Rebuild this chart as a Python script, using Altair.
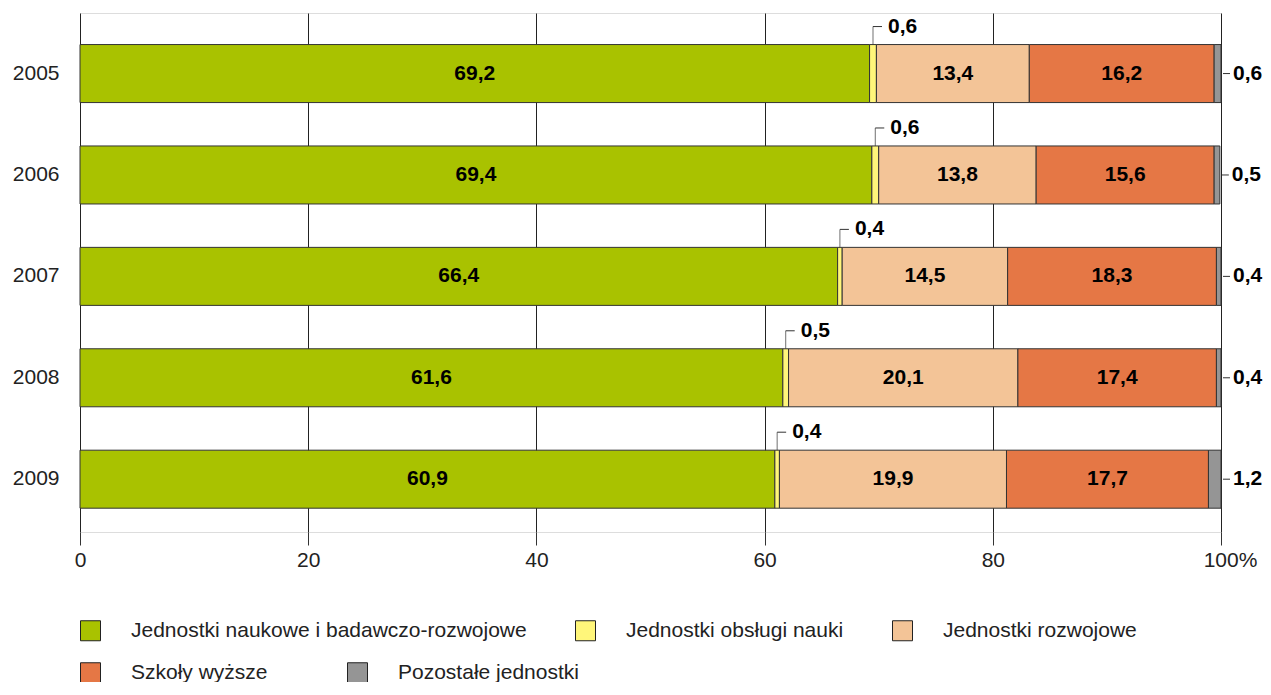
import altair as alt
import pandas as pd

years = ["2005", "2006", "2007", "2008", "2009"]
categories = [
    "Jednostki naukowe i badawczo-rozwojowe",
    "Jednostki obsługi nauki",
    "Jednostki rozwojowe",
    "Szkoły wyższe",
    "Pozostałe jednostki",
]
naukowe = [69.2, 69.4, 66.4, 61.6, 60.9]
obslugi = [0.6, 0.6, 0.4, 0.5, 0.4]
rozwojowe = [13.4, 13.8, 14.5, 20.1, 19.9]
szkoly = [16.2, 15.6, 18.3, 17.4, 17.7]
pozostale = [0.6, 0.5, 0.4, 0.4, 1.2]
colors = ["#A9C200", "#FFF67A", "#F3C497", "#E57745", "#959595"]
x_ticks = [0, 20, 40, 60, 80, 100]

series = [naukowe, obslugi, rozwojowe, szkoly, pozostale]
rows = []
for i, y in enumerate(years):
    cum = 0.0
    for c, vals in zip(categories, series):
        v = vals[i]
        rows.append({
            "year": y, "cat": c, "value": v,
            "start": cum, "end": cum + v, "mid": cum + v / 2,
            "label": f"{v:.1f}".replace(".", ","),
        })
        cum += v
df = pd.DataFrame(rows)

FONT = "Liberation Sans"

xscale = alt.Scale(domain=[0, 100], clamp=True, nice=False, zero=True)
yscale = alt.Scale(domain=years, paddingInner=0.428, paddingOuter=0.273, align=0.57)

legend_common = dict(
    title=None, orient="none", legendX=0, direction="horizontal",
    symbolType="square", symbolSize=400,
    symbolStrokeColor="#222222", symbolStrokeWidth=1, symbolOpacity=1,
    labelFontSize=21, labelFont=FONT, labelColor="#222222", labelOffset=30,
    labelLimit=600, padding=0,
)

bars = alt.Chart(df).mark_bar(stroke="#333333", strokeWidth=1).encode(
    x=alt.X("start:Q", scale=xscale, axis=alt.Axis(
        values=x_ticks, title=None, grid=True, gridColor="#222222", gridWidth=1,
        domain=False, ticks=True, tickSize=13, tickColor="#333333",
        labelFontSize=21, labelFont=FONT, labelColor="#222222", labelPadding=4,
        labelFlush=False,
        labelExpr="datum.value == 100 ? '100%' : datum.label",
        labelOffset={"condition": {"test": "datum.value == 100", "value": 9}, "value": 0},
    )),
    x2="end:Q",
    y=alt.Y("year:N", scale=yscale, sort=years, axis=alt.Axis(
        title=None, ticks=False, domain=False, labelFontSize=21, labelFont=FONT,
        labelColor="#222222", labelPadding=21,
    )),
    color=alt.Color("cat:N", scale=alt.Scale(domain=categories, range=colors), legend=alt.Legend(
        values=categories[:3], legendY=607, columnPadding=46, **legend_common,
    )),
)

second = df[df["cat"].isin(categories[3:])]
legend2_layer = alt.Chart(second).mark_bar(opacity=0, strokeOpacity=0).encode(
    x=alt.X("start:Q", scale=xscale),
    x2="end:Q",
    y=alt.Y("year:N", scale=yscale, sort=years),
    fill=alt.Fill("cat:N", scale=alt.Scale(domain=categories[3:], range=colors[3:]), legend=alt.Legend(
        values=categories[3:], legendY=649, columnPadding=77, **legend_common,
    )),
)

big = df[df["cat"].isin([categories[0], categories[2], categories[3]])]
inside = alt.Chart(big).mark_text(fontSize=21, font=FONT, fontWeight="bold", color="#000000").encode(
    x=alt.X("mid:Q", scale=xscale),
    y=alt.Y("year:N", scale=yscale, sort=years, bandPosition=0.5),
    text="label:N",
)

yel = df[df["cat"] == categories[1]]
yel_tick = alt.Chart(yel).mark_tick(size=18, thickness=1, color="#333333", yOffset=-38, orient="vertical").encode(
    x=alt.X("mid:Q", scale=xscale),
    y=alt.Y("year:N", scale=yscale, sort=years),
)
yel_rule = alt.Chart(yel).mark_rule(color="#333333", strokeWidth=1, yOffset=-47, x2Offset=9).encode(
    x=alt.X("mid:Q", scale=xscale),
    x2="mid:Q",
    y=alt.Y("year:N", scale=yscale, sort=years, bandPosition=0.5),
)
yel_text = alt.Chart(yel).mark_text(fontSize=21, font=FONT, fontWeight="bold", color="#000000",
                                    align="left", dx=15, dy=-47).encode(
    x=alt.X("mid:Q", scale=xscale),
    y=alt.Y("year:N", scale=yscale, sort=years, bandPosition=0.5),
    text="label:N",
)

gr = df[df["cat"] == categories[4]]
gr_rule = alt.Chart(gr).mark_rule(color="#333333", strokeWidth=1, xOffset=2, x2Offset=9).encode(
    x=alt.X("end:Q", scale=xscale),
    x2="end:Q",
    y=alt.Y("year:N", scale=yscale, sort=years, bandPosition=0.5),
)
gr_text = alt.Chart(gr).mark_text(fontSize=21, font=FONT, fontWeight="bold", color="#000000",
                                  align="left", dx=12).encode(
    x=alt.X("end:Q", scale=xscale),
    y=alt.Y("year:N", scale=yscale, sort=years, bandPosition=0.5),
    text="label:N",
)

chart = alt.layer(bars, legend2_layer, inside, yel_tick, yel_rule, yel_text, gr_rule, gr_text).properties(
    width=1141, height=519,
    autosize=alt.AutoSizeParams(type="none"),
    padding={"left": 72, "top": 5, "right": 42, "bottom": 150},
).configure_view(stroke="#888888", strokeWidth=1).configure(background="white")

chart.save("out.html", embed_options={"renderer": "svg", "actions": False})
